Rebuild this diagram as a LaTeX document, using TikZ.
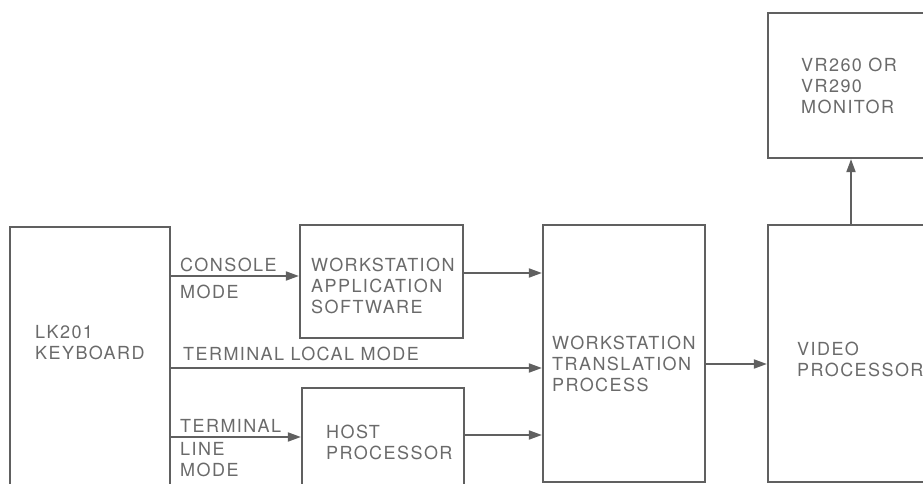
\documentclass[tikz,border=0pt]{standalone}
\usepackage{fontspec}
\setmainfont{TeX Gyre Heros}[LetterSpace=8]
\usetikzlibrary{calc, positioning}
\usetikzlibrary{arrows.meta}
\definecolor{ink}{HTML}{606060}
\definecolor{print}{HTML}{6A6A6A}

\begin{document}
\begin{tikzpicture}[x=1pt,y=1pt,
  unit/.style 2 args={draw=ink, line width=2.2pt, minimum width=#1, minimum height=#2, inner sep=0pt},
  txt/.style={text=print, inner sep=0pt, anchor=north west, align=left, font=\fontsize{18}{21}\selectfont},
  flow/.style={draw=ink, line width=1.8pt, -{Triangle[length=13pt,width=9pt]}}]
\clip (0,0) rectangle (923,484);

\node[unit={160}{277}] (kbd) at (90,118.5) {};
\node[unit={163}{113}] (was) at (381.5,202.5) {};
\node[unit={162}{116}] (host) at (383,38) {};
\node[unit={162}{257}] (wtp) at (624,130.5) {};
\node[unit={192}{257}] (vp) at (864,130.5) {};
\node[unit={192}{145}] (mon) at (864,398.5) {};

\node[txt] (kbdname) at (35,159) {LK201\\KEYBOARD};
\node[txt] (wasname) at (311,226.5) {WORKSTATION\\APPLICATION\\SOFTWARE};
\node[txt] (hostname) at (326,59.5) {HOST\\PROCESSOR};
\node[txt] (wtpname) at (552,148.5) {WORKSTATION\\TRANSLATION\\PROCESS};
\node[txt] (vpname) at (797,142.5) {VIDEO\\PROCESSOR};
\node[txt] (monname) at (801,426.5) {VR260 OR\\VR290\\MONITOR};

\coordinate (console) at (0,208);
\coordinate (local) at (0,116);
\coordinate (line) at (0,47);
\coordinate (appout) at (0,211);
\coordinate (hostout) at (0,49);
\coordinate (xlate) at (0,120);
\coordinate (video) at (851,0);

\draw[flow] (kbd.east |- console) -- (was.west |- console);
\draw[flow] (kbd.east |- local) -- (wtp.west |- local);
\draw[flow] (kbd.east |- line) -- (host.west |- line);
\draw[flow] (was.east |- appout) -- (wtp.west |- appout);
\draw[flow] (host.east |- hostout) -- (wtp.west |- hostout);
\draw[flow] (wtp.east |- xlate) -- (vp.west |- xlate);
\draw[flow] (vp.north -| video) -- (mon.south -| video);

\node[txt] (conslabel) at (180,226.5) {CONSOLE};
\node[txt] (consmode) at (180,199.5) {MODE};
\node[txt] (locallabel) at (183,137.5) {TERMINAL LOCAL MODE};
\node[txt] (linelabel) at (180,64.5) {TERMINAL};
\node[txt] (linemode) at (180,41.5) {LINE\\MODE};
\end{tikzpicture}
\end{document}
